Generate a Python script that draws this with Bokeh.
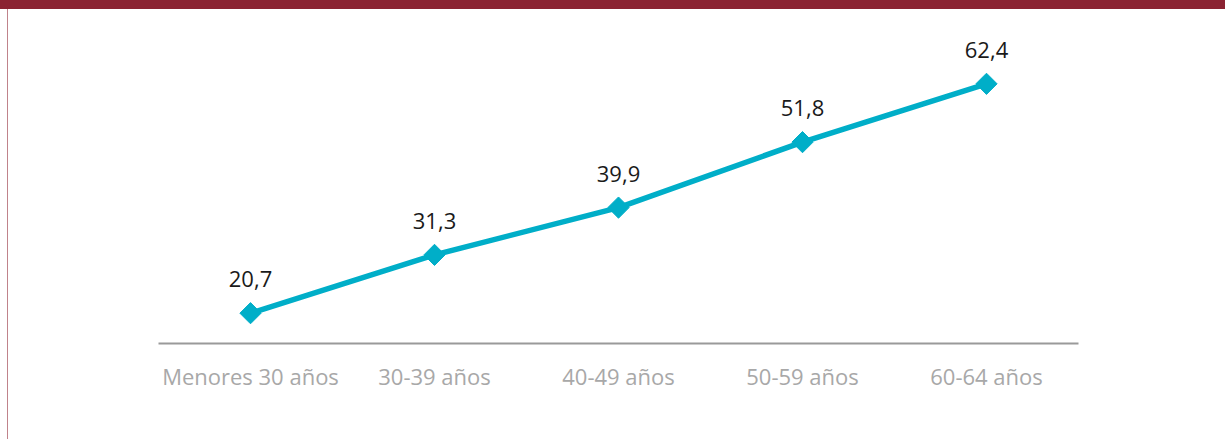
import math
from bokeh.plotting import figure
from bokeh.models import ColumnDataSource, LabelSet, FactorRange, Range1d, Div
from bokeh.layouts import column, row
from bokeh.core.properties import value
from bokeh.embed import file_html
from bokeh.resources import INLINE

categories = ["Menores 30 años", "30-39 años", "40-49 años", "50-59 años", "60-64 años"]
values = [20.7, 31.3, 39.9, 51.8, 62.4]
value_labels = ["20,7", "31,3", "39,9", "51,8", "62,4"]

TEAL = "#00aec8"
MAROON = "#8b2332"

src = ColumnDataSource(dict(x=categories, y=values, label=value_labels))

p = figure(width=1217, height=430, x_range=FactorRange(*categories, range_padding=0),
           y_range=Range1d(15.19, 73.91), output_backend="svg", toolbar_location=None,
           min_border_left=150, min_border_right=147, min_border_top=11, min_border_bottom=96)
p.outline_line_color = None
p.xgrid.visible = False
p.ygrid.visible = False
p.yaxis.visible = False
p.background_fill_color = "white"
p.border_fill_color = "white"

p.line("x", "y", source=src, line_color=TEAL, line_width=5.5)
p.scatter("x", "y", source=src, marker="square", size=15, angle=math.pi / 4,
          fill_color=TEAL, line_color=TEAL)

labels = LabelSet(x="x", y="y", text="label", source=src, text_align="center",
                  text_baseline="alphabetic", y_offset=26, text_font=value("Open Sans"),
                  text_font_size=value("22px"), text_color="#1a1a1a")
p.add_layout(labels)

ax = p.xaxis[0]
ax.axis_line_color = "#9a9a9a"
ax.axis_line_width = 2
ax.major_tick_line_color = None
ax.minor_tick_line_color = None
ax.major_label_text_font = "Open Sans"
ax.major_label_text_font_size = "22px"
ax.major_label_text_color = "#a8a8a8"
ax.major_label_standoff = 11

top_bar = Div(width=1225, height=9, margin=0, styles={"background-color": MAROON})
left_edge = Div(width=8, height=430, margin=0,
                styles={"border-right": "1px solid #c0838b", "box-sizing": "border-box"})

layout = column(top_bar, row(left_edge, p, spacing=0), spacing=0)

open("out.html", "w").write(file_html(layout, INLINE))
